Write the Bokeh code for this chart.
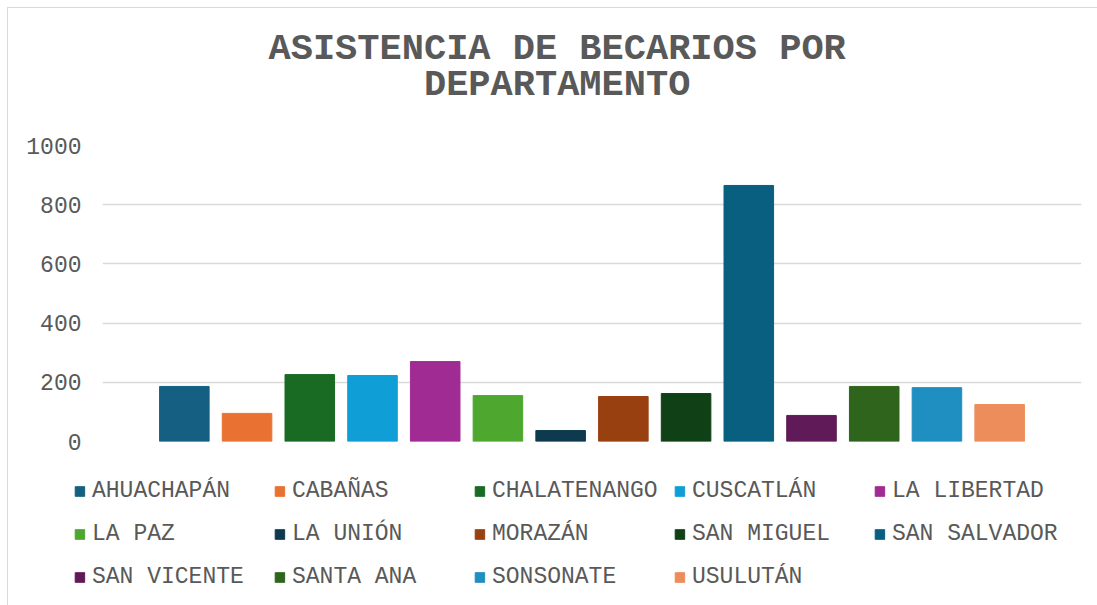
from bokeh.plotting import figure
from bokeh.models import (ColumnDataSource, FactorRange, FixedTicker, Legend,
                          LegendItem, Title, Range1d)
from bokeh.embed import file_html
from bokeh.resources import INLINE

departamentos = ["AHUACHAPÁN", "CABAÑAS", "CHALATENANGO", "CUSCATLÁN", "LA LIBERTAD",
                 "LA PAZ", "LA UNIÓN", "MORAZÁN", "SAN MIGUEL", "SAN SALVADOR",
                 "SAN VICENTE", "SANTA ANA", "SONSONATE", "USULUTÁN"]
becarios = [186, 95, 226, 223, 270, 155, 37, 152, 162, 865, 88, 186, 182, 125]
colores = ["#156082", "#E97132", "#196B24", "#0F9ED5", "#A02B93", "#4EA72E",
           "#0D3A4E", "#994011", "#0F4016", "#095F80", "#601A58", "#2F641C",
           "#1F8EC0", "#ED8D5B"]
y_ticks = [0, 200, 400, 600, 800, 1000]
titulo = ["ASISTENCIA DE BECARIOS POR", "DEPARTAMENTO"]

FONT = "Liberation Mono"
GRAY = "#595959"

src = ColumnDataSource(dict(dep=departamentos, val=becarios, col=colores))

p = figure(width=1089, height=597, frame_width=979, frame_height=296,
           output_backend="svg", toolbar_location=None,
           x_range=FactorRange(factors=departamentos, range_padding=0.115),
           y_range=Range1d(0, 1000), x_axis_location=None,
           min_border_left=94, min_border_right=16, min_border_top=137,
           min_border_bottom=164, title=None,
           styles={"margin-left": "7px", "margin-top": "7px",
                   "border-left": "1px solid #d9d9d9", "border-top": "1px solid #d9d9d9"})

r = p.vbar(x="dep", top="val", width=0.79, color="col", source=src)

# centre the second line under the first (monospace font) with no-break spaces
pad = "\u00a0" * ((len(titulo[0]) - len(titulo[1])) // 2)
spacer = Title(text="\u00a0", text_font_size="10px", standoff=26)
p.add_layout(spacer, "above")
t = Title(text=titulo[0] + "\n" + pad + titulo[1], text_font=FONT, text_font_size="37px",
          text_font_style="bold", text_color=GRAY, align="left", offset=166,
          standoff=0, text_line_height=0.88)
p.add_layout(t, "above")

p.outline_line_color = None
p.xgrid.grid_line_color = None
p.ygrid.grid_line_color = "#d9d9d9"
p.ygrid.grid_line_width = 1.5
p.yaxis.ticker = FixedTicker(ticks=y_ticks)
p.yaxis.axis_line_color = None
p.yaxis.major_tick_line_color = None
p.yaxis.minor_tick_line_color = None
p.yaxis.major_tick_out = 0
p.yaxis.major_label_standoff = 21
p.yaxis.major_label_text_font = FONT
p.yaxis.major_label_text_font_size = "23px"
p.yaxis.major_label_text_color = GRAY

items = [LegendItem(label=d, renderers=[r], index=i) for i, d in enumerate(departamentos)]
# an invisible title on the right widens the legend so the centred block sits further left
legend = Legend(items=items, orientation="horizontal", ncols=5, location="top_center",
                glyph_width=12, glyph_height=12, label_standoff=7, spacing=15,
                label_width=166, label_height=28,
                label_text_font=FONT, label_text_font_size="23px", label_text_color=GRAY,
                title="\u00a0", title_location="right", title_text_font_size="1px",
                title_standoff=51,
                padding=0, margin=36, border_line_color=None, background_fill_alpha=0)
p.add_layout(legend, "below")

open("out.html", "w").write(file_html(p, INLINE))
